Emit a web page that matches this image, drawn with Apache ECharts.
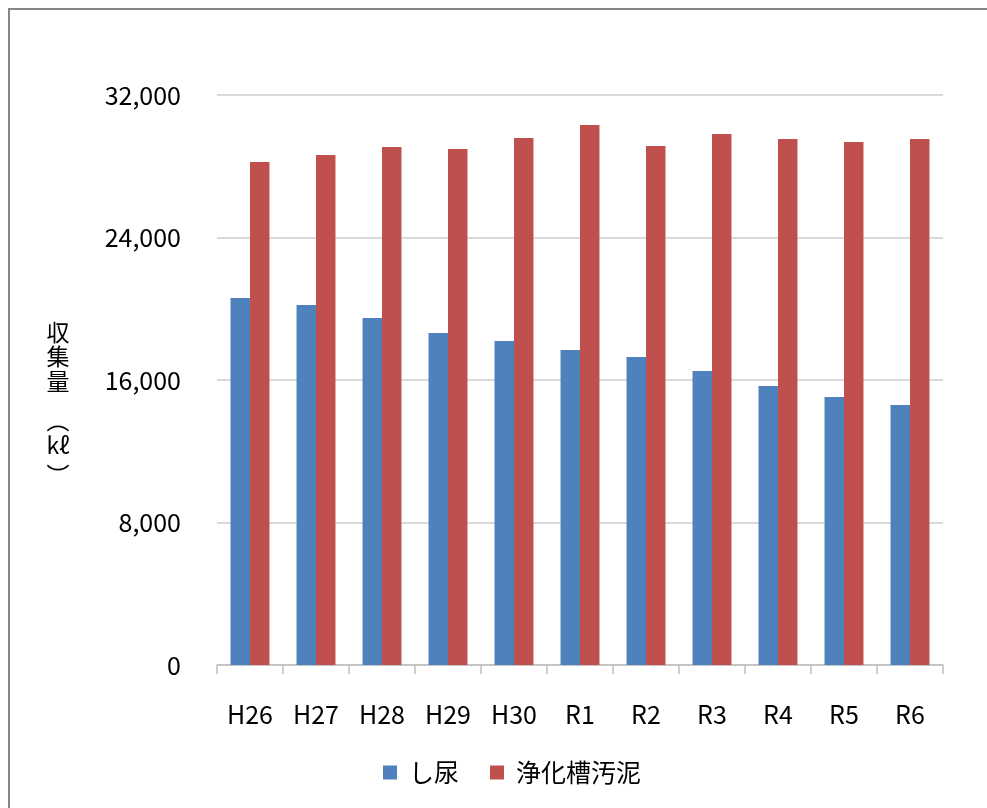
<!DOCTYPE html>
<html>
<head>
<meta charset="utf-8">
<script src="https://cdn.jsdelivr.net/npm/echarts@6/dist/echarts.min.js"></script>
<style>
html,body{margin:0;padding:0;background:#fff;}
#chart{width:987px;height:808px;}
</style>
</head>
<body>
<div id="chart"></div>
<script>
var categories = ['H26','H27','H28','H29','H30','R1','R2','R3','R4','R5','R6'];
var seriesNames = ['し尿','浄化槽汚泥'];
var shinyo = [20600,20210,19480,18640,18190,17680,17290,16500,15660,15050,14600];
var jokaso = [28240,28630,29080,28970,29590,30320,29140,29810,29530,29360,29530];
var yTitleMain = '収\n集\n量';
var yTitleUnit = 'kℓ';

var FONT = '"Noto Sans CJK JP", "Noto Sans", sans-serif';
var chart = echarts.init(document.getElementById('chart'), null, {renderer:'canvas'});
var tf = '23px ' + FONT;
chart.setOption({
  animation:false,
  backgroundColor:'#ffffff',
  textStyle:{fontFamily:FONT},
  grid:{left:217,right:44,top:95,bottom:143,containLabel:false},
  graphic:[
    {type:'rect',shape:{x:9,y:9,width:1100,height:1000},style:{fill:'none',stroke:'#868686',lineWidth:2},silent:true},
    {type:'text',x:58,y:320,style:{text:yTitleMain,font:tf,fill:'#000',lineHeight:24.5,align:'center',verticalAlign:'top'}},
    {type:'text',x:58,y:421,rotation:-Math.PI/2,style:{text:'（',font:tf,fill:'#000',align:'center',verticalAlign:'middle'}},
    {type:'text',x:58,y:445,style:{text:yTitleUnit,font:tf,fill:'#000',align:'center',verticalAlign:'middle'}},
    {type:'text',x:58,y:475,rotation:-Math.PI/2,style:{text:'）',font:tf,fill:'#000',align:'center',verticalAlign:'middle'}}
  ],
  legend:{
    data:seriesNames,bottom:18,left:378,icon:'rect',itemWidth:14,itemHeight:14,itemGap:31,
    textStyle:{fontSize:25,color:'#000',fontFamily:FONT,padding:[0,0,0,7]}
  },
  xAxis:{
    type:'category',data:categories,
    axisLine:{lineStyle:{color:'#bfbfbf',width:1.5}},
    axisTick:{show:true,length:9,lineStyle:{color:'#bfbfbf',width:1.5}},
    axisLabel:{fontSize:25,color:'#000',margin:37,fontFamily:FONT}
  },
  yAxis:{
    type:'value',min:0,max:32000,interval:8000,
    axisLine:{show:false},axisTick:{show:false},
    axisLabel:{fontSize:25,color:'#000',margin:36,fontFamily:FONT,
      formatter:function(v){return v.toLocaleString('en-US');}},
    splitLine:{lineStyle:{color:'#d9d9d9',width:2}}
  },
  series:[
    {name:seriesNames[0],type:'bar',data:shinyo,itemStyle:{color:'#4f81bd'},barGap:'0%',barCategoryGap:'41%'},
    {name:seriesNames[1],type:'bar',data:jokaso,itemStyle:{color:'#c0504d'},barGap:'0%',barCategoryGap:'41%'}
  ]
});
</script>
</body>
</html>
